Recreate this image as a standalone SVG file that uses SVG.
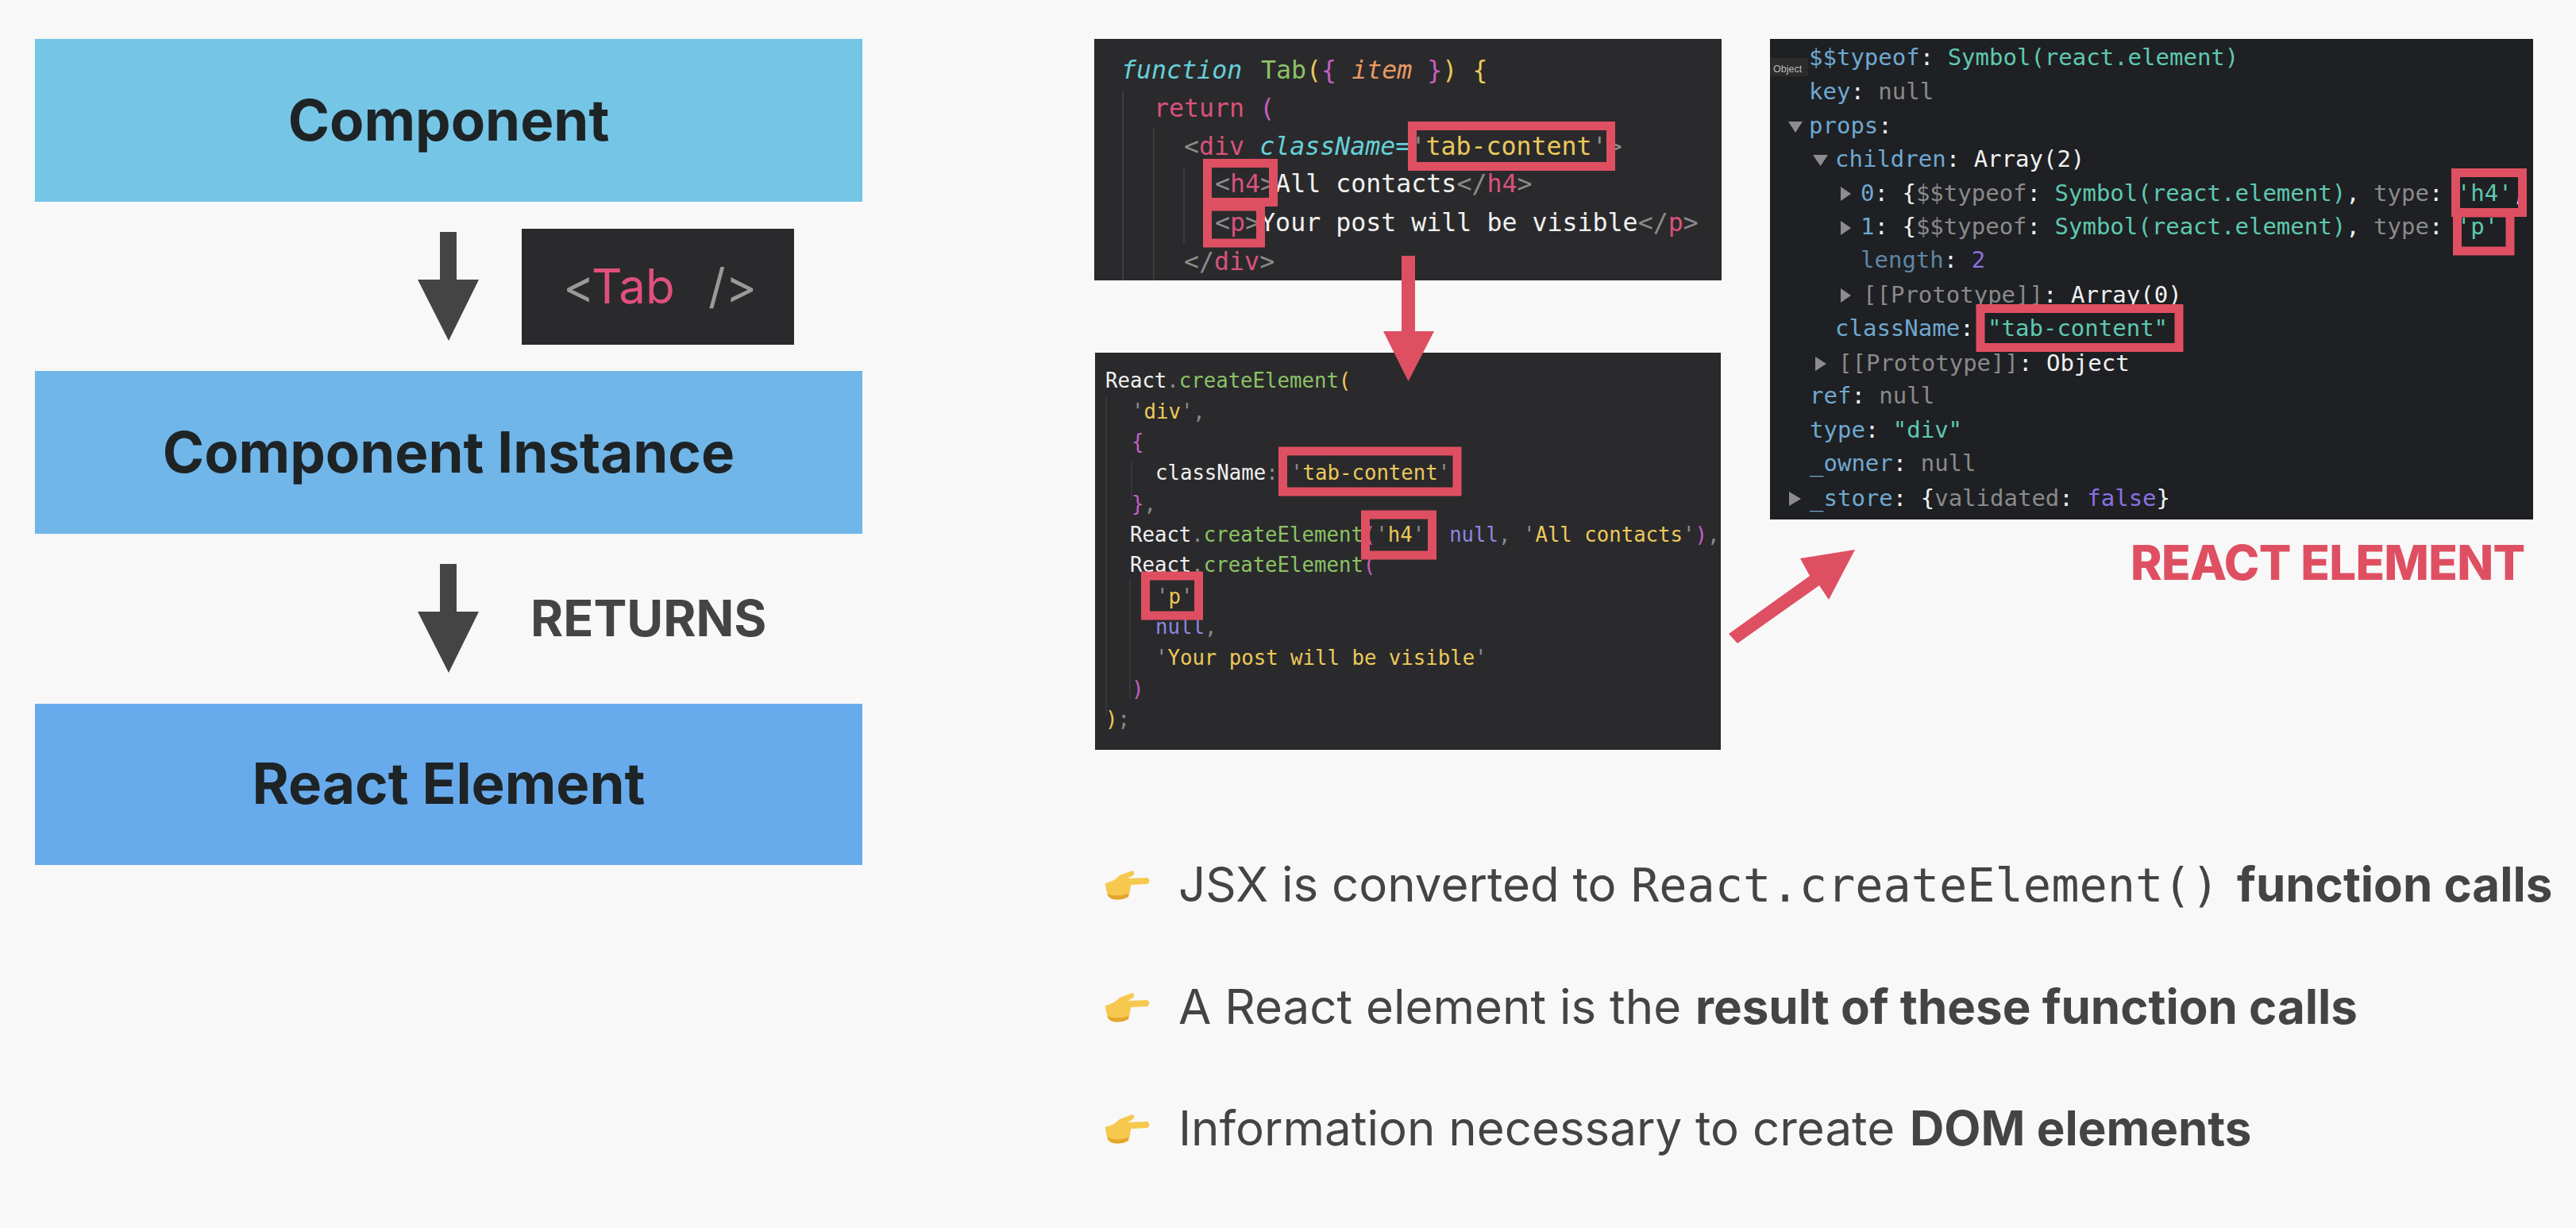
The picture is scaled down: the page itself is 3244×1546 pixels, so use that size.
<svg xmlns="http://www.w3.org/2000/svg" width="3244" height="1546" viewBox="0 0 3244 1546">
<defs>
<g id="hand">
<path d="M2 18 Q14 15 20 8 L36 2 Q40 4 37 8 L30 12 L55 11 Q60 15 55 19 L34 20 Q33 30 31 35 Q22 40 12 38 Q3 36 2 18Z" fill="#f6c94e"/>
<path d="M4 31 Q16 36 31 31 L31 35 Q22 40 12 38 Q6 37 4 31Z" fill="#e5a52c"/>
</g>
</defs>
<style>
text{white-space:pre}
.h{font:700 70.8px Inter,"Liberation Sans",sans-serif;fill:#1e2326;text-anchor:middle}
.b{font:400 60px Inter,"Liberation Sans",sans-serif;fill:#444}
.b .s{font-weight:700}
.b .m{font-family:"DejaVu Sans Mono","Liberation Mono",monospace;font-size:58.6px}
.c1{font:400 31.6px "DejaVu Sans Mono","Liberation Mono",monospace}
.c2{font:400 25.7px "DejaVu Sans Mono","Liberation Mono",monospace}
.c3{font:400 29px "DejaVu Sans Mono","Liberation Mono",monospace}
.dk{fill:#2a2a2c}
.r{fill:none;stroke:#df4f62;stroke-width:11}
.tri{fill:#8d8d8d}
.w{fill:#f1f1f1}.g{fill:#8c8c8c}.pk{fill:#d9527a}.y{fill:#ecc95a}.gr{fill:#8cc265}.cy{fill:#66d0d8}.mg{fill:#c65fc0}.o{fill:#e89a63}.bl{fill:#8c86e0}
.k{fill:#6fa8d0}.t{fill:#5ec8b0}.n{fill:#8a8a8a}.v{fill:#8a70e0}
</style>
<rect width="3244" height="1546" fill="#f8f8f8"/>
<g id="node-component"><rect x="44" y="49" width="1042" height="205" fill="#75c5e6"/><text class="h" x="565" y="177">Component</text></g>
<g id="node-instance"><rect x="44" y="467" width="1042" height="205" fill="#70b6e9"/><text class="h" x="565" y="595">Component Instance</text></g>
<g id="node-element"><rect x="44" y="886" width="1042" height="203" fill="#68abec"/><text class="h" x="565" y="1012">React Element</text></g>
<g id="tab-label"><rect x="657" y="288" width="343" height="146" class="dk"/>
<text x="709" y="382" style="font:400 60px Inter,'Liberation Sans',sans-serif" fill="#9a9a9a">&lt;<tspan x="745" fill="#e0507c">Tab</tspan><tspan x="892">/&gt;</tspan></text></g>
<g id="returns-label"><text x="668" y="801" style="font:700 62.8px Inter,'Liberation Sans',sans-serif" fill="#444">RETURNS</text></g>

<g id="code-jsx"><rect x="1378" y="49" width="790" height="304" class="dk"/>
<path d="M1414 114V353M1453 162V353M1491 210V306" stroke="#444" stroke-width="1.5" fill="none"/>
<g class="c1">
<text y="99" x="1412" font-style="italic" class="cy">function</text>
<text y="99" x="1588" class="gr">Tab<tspan class="y">(</tspan><tspan class="mg">{</tspan> <tspan class="o" font-style="italic">item</tspan> <tspan class="mg">}</tspan><tspan class="y">)</tspan> <tspan class="y">{</tspan></text>
<text y="147" x="1453" class="pk">return <tspan class="mg">(</tspan></text>
<text y="195" x="1491" class="g">&lt;<tspan class="pk">div</tspan> <tspan class="cy" font-style="italic">className</tspan><tspan class="cy">=</tspan>'<tspan class="y">tab-content</tspan>'&gt;</text>
<text y="242" x="1530" class="g">&lt;<tspan class="pk">h4</tspan>&gt;<tspan class="w">All contacts</tspan>&lt;/<tspan class="pk">h4</tspan>&gt;</text>
<text y="291" x="1530" class="g">&lt;<tspan class="pk">p</tspan>&gt;<tspan class="w">Your post will be visible</tspan>&lt;/<tspan class="pk">p</tspan>&gt;</text>
<text y="340" x="1491" class="g">&lt;/<tspan class="pk">div</tspan>&gt;</text>
</g>
<rect class="r" x="1778.5" y="158.5" width="250" height="51"/>
<rect class="r" x="1520.5" y="205.5" width="83" height="49"/>
<rect class="r" x="1520.5" y="260" width="67" height="46"/>
</g>

<g id="code-create"><rect x="1379" y="444" width="788" height="500" class="dk"/>
<path d="M1393 500V900M1425 580V630M1423 730V880" stroke="#3c3c3c" stroke-width="1.5" fill="none"/>
<g class="c2">
<text y="488" x="1392" class="w">React<tspan class="g">.</tspan><tspan class="gr">createElement</tspan><tspan class="y">(</tspan></text>
<text y="527" x="1425" class="g">'<tspan class="y">div</tspan>',</text>
<text y="565" x="1425" class="mg">{</text>
<text y="604" x="1455" class="w">className<tspan class="g">:</tspan> <tspan class="g">'</tspan><tspan class="y">tab-content</tspan><tspan class="g">'</tspan></text>
<text y="643" x="1425" class="mg">}<tspan class="g">,</tspan></text>
<text y="682" x="1423" class="w">React<tspan class="g">.</tspan><tspan class="gr">createElement</tspan><tspan class="mg">(</tspan><tspan class="g">'</tspan><tspan class="y">h4</tspan><tspan class="g">'</tspan>  <tspan class="bl">null</tspan><tspan class="g">,</tspan> <tspan class="g">'</tspan><tspan class="y">All contacts</tspan><tspan class="g">'</tspan><tspan class="mg">)</tspan><tspan class="g">,</tspan></text>
<text y="720" x="1423" class="w">React<tspan class="g">.</tspan><tspan class="gr">createElement</tspan><tspan class="mg">(</tspan></text>
<text y="760" x="1456" class="g">'<tspan class="y">p</tspan>'</text>
<text y="798" x="1455" class="bl">null<tspan class="g">,</tspan></text>
<text y="837" x="1455" class="g">'<tspan class="y">Your post will be visible</tspan>'</text>
<text y="876" x="1425" class="mg">)</text>
<text y="914" x="1392" class="y">)<tspan class="g">;</tspan></text>
</g>
<rect class="r" x="1615.5" y="568" width="219.5" height="51"/>
<rect class="r" x="1719.5" y="648" width="84" height="51"/>
<rect class="r" x="1442.5" y="725" width="67" height="50"/>
</g>

<g id="devtools"><rect x="2229" y="49" width="961" height="605" fill="#1e2023"/>
<rect x="2229" y="73" width="48" height="23" fill="#2b2b2b"/>
<text x="2233" y="91" fill="#bbb" style="font:400 12.5px 'Liberation Sans',sans-serif">Object</text>
<g class="tri">
<path d="M2252 153H2270L2261 167Z"/><path d="M2283 195H2302L2292.500 209Z"/>
<path d="M2318 235V253L2331 244Z"/><path d="M2318 278V296L2331 287Z"/><path d="M2318 363V381L2331 372Z"/>
<path d="M2286 449V467L2300 458Z"/><path d="M2253 619V637L2268 628Z"/>
</g>
<g class="c3">
<text y="82" x="2278" class="k">$$typeof<tspan class="w">:</tspan> <tspan class="t">Symbol(react.element)</tspan></text>
<text y="125" x="2278" class="k">key<tspan class="w">:</tspan> <tspan class="n">null</tspan></text>
<text y="168" x="2278" class="k">props<tspan class="w">:</tspan></text>
<text y="210" x="2311" class="k">children<tspan class="w">:</tspan> <tspan class="w">Array(2)</tspan></text>
<text y="253" x="2343" class="k">0<tspan class="w">:</tspan> <tspan class="w">{</tspan><tspan class="n">$$typeof</tspan><tspan class="w">:</tspan> <tspan class="t">Symbol(react.element)</tspan><tspan class="w">,</tspan> <tspan class="n">type</tspan><tspan class="w">:</tspan> <tspan class="t">'h4'</tspan><tspan class="w">,</tspan></text>
<text y="295" x="2343" class="k">1<tspan class="w">:</tspan> <tspan class="w">{</tspan><tspan class="n">$$typeof</tspan><tspan class="w">:</tspan> <tspan class="t">Symbol(react.element)</tspan><tspan class="w">,</tspan> <tspan class="n">type</tspan><tspan class="w">:</tspan> <tspan class="t">'p'</tspan></text>
<text y="337" x="2343" fill="#5f86a3">length<tspan class="w">:</tspan> <tspan class="v">2</tspan></text>
<text y="381" x="2346" class="n">[[Prototype]]<tspan class="w">:</tspan> <tspan class="w">Array(0)</tspan></text>
<text y="423" x="2311" class="k">className<tspan class="w">:</tspan> <tspan class="t">"tab-content"</tspan></text>
<text y="467" x="2315" class="n">[[Prototype]]<tspan class="w">:</tspan> <tspan class="w">Object</tspan></text>
<text y="508" x="2279" class="k">ref<tspan class="w">:</tspan> <tspan class="n">null</tspan></text>
<text y="551" x="2279" class="k">type<tspan class="w">:</tspan> <tspan class="t">"div"</tspan></text>
<text y="593" x="2279" class="k">_owner<tspan class="w">:</tspan> <tspan class="n">null</tspan></text>
<text y="637" x="2279" class="k">_store<tspan class="w">:</tspan> <tspan class="w">{</tspan><tspan class="n">validated</tspan><tspan class="w">:</tspan> <tspan class="v">false</tspan><tspan class="w">}</tspan></text>
</g>
<rect class="r" x="3094.500" y="268" width="66.500" height="48"/>
<rect class="r" x="3092.500" y="217.500" width="84" height="50"/>
<rect class="r" x="2494" y="388.500" width="250" height="49"/>
</g>
<g id="react-element-label"><text x="2683" y="730" fill="#df4f62" style="font:800 60px Inter,'Liberation Sans',sans-serif;letter-spacing:-.65px">REACT ELEMENT</text></g>

<g id="connectors">
<path fill="#444" d="M554 292H575V352H603L565 429L526 352H554Z"/>
<path fill="#444" d="M554 710H575V770H603L565 847L526 770H554Z"/>
<path fill="#df4f62" d="M1765 322H1782V417H1806L1773.500 480L1742 417H1765Z"/>
<path fill="#df4f62" d="M2177 798L2279 725L2267 703L2336 692L2303 755L2291 737L2188 810Z"/>
</g>

<g id="bullets">
<use href="#hand" x="1390" y="1094"/><use href="#hand" x="1390" y="1248"/><use href="#hand" x="1390" y="1401"/>
<text class="b" x="1484" y="1135">JSX is converted to<tspan class="m" x="2054">React.createElement()</tspan><tspan class="s" x="2817">function calls</tspan></text>
<text class="b" x="1484" y="1289">A React element is the<tspan class="s" x="2135">result of these function calls</tspan></text>
<text class="b" x="1484" y="1442">Information necessary to create<tspan class="s" x="2405">DOM elements</tspan></text>
</g>
</svg>
